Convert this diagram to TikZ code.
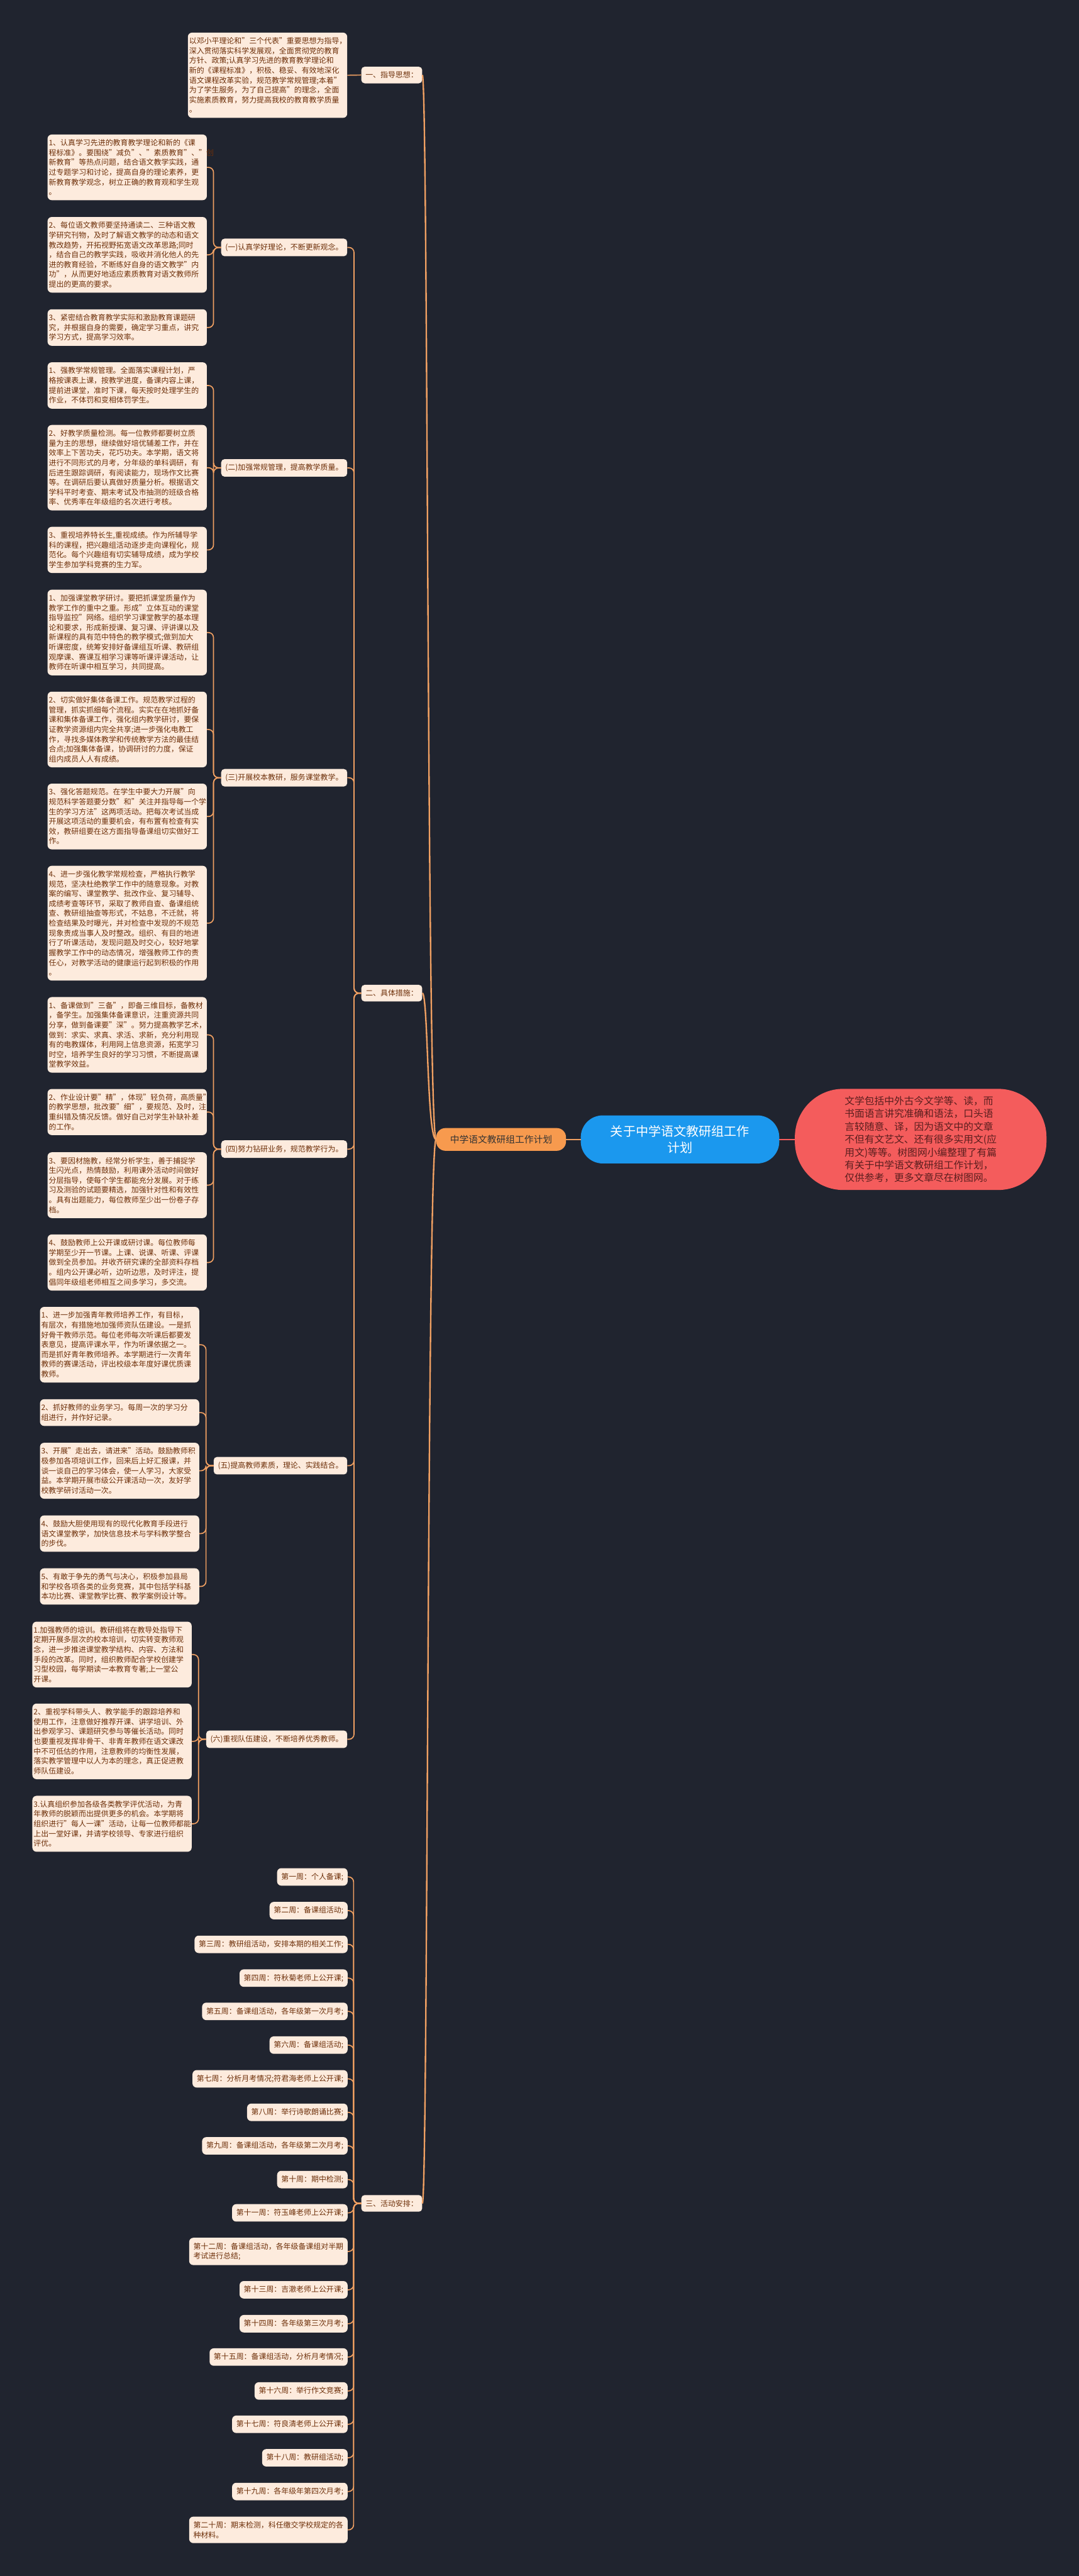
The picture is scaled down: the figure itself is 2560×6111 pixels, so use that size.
\documentclass[tikz,border=0pt]{standalone}
\usepackage{fontspec}
\setmainfont{Noto Sans CJK SC}
\usepackage{tikz}
\usepackage{xcolor}

\definecolor{bgnavy}{HTML}{20242F}
\definecolor{leaffill}{HTML}{FDEBDD}
\definecolor{leaftext}{HTML}{6E300A}
\definecolor{linkorange}{HTML}{F0A062}
\definecolor{rootorange}{HTML}{F79A4E}
\definecolor{titleblue}{HTML}{1B98EE}
\definecolor{notered}{HTML}{F45C5C}
\definecolor{notetext}{HTML}{5A1E1E}

\begin{document}
\begin{tikzpicture}[x=1pt, y=-1pt,
	leaf/.style={fill=leaffill, text=leaftext, rounded corners=10pt, anchor=east, text width=372pt, align=left, inner xsep=3pt, inner ysep=11.5pt, font=\fontsize{17.8pt}{23.3pt}\selectfont},
	week/.style={fill=leaffill, text=leaftext, rounded corners=10pt, anchor=east, align=left, inner xsep=10pt, inner ysep=11.5pt, font=\fontsize{17.8pt}{23.3pt}\selectfont},
	topic/.style={fill=leaffill, text=leaftext, rounded corners=8pt, anchor=east, inner xsep=10pt, inner ysep=11.5pt, font=\fontsize{17.8pt}{23.3pt}\selectfont},
	link/.style={draw=linkorange, line width=2.5pt, rounded corners=12pt},
	branch/.style={draw=linkorange, line width=3.5pt}]
	\useasboundingbox (0,0) rectangle (2560,6111);
	\fill[bgnavy] (0,0) rectangle (2560,6111);

	% centre
	\node[fill=titleblue, text=white, rounded corners=52pt, minimum width=471pt, minimum height=114pt, align=center, font=\fontsize{30pt}{40pt}\selectfont] (title) at (1613.5,2703) {关于中学语文教研组工作\\计划};
	\node[fill=rootorange, text=black!80, rounded corners=22pt, minimum width=308pt, minimum height=54pt, font=\fontsize{22pt}{28pt}\selectfont] (root) at (1189,2703) {中学语文教研组工作计划};
	\node[fill=notered, text=notetext, rounded corners=115pt, minimum width=597pt, minimum height=240pt, align=left, font=\fontsize{23.5pt}{30.5pt}\selectfont] (note) at (2184.5,2703) {文学包括中外古今文学等、读，而\\书面语言讲究准确和语法，口头语\\言较随意、译，因为语文中的文章\\不但有文艺文、还有很多实用文(应\\用文)等等。树图网小编整理了有篇\\有关于中学语文教研组工作计划，\\仅供参考，更多文章尽在树图网。};
	\draw[branch] (title.west) -- (root.east);
	\draw[draw=notered, line width=3.5pt] (title.east) -- (note.west);

	% first level
	\node[topic] (guide) at (1002,178) {一、指导思想：};
	\node[topic] (measures) at (1002,2356) {二、具体措施：};
	\node[topic] (plan) at (1002,5227) {三、活动安排：};
	\foreach \b in {guide,measures,plan}
		\draw[branch] (root.west) .. controls +(-22,0) and +(14,0) .. (\b.east);

	\node[leaf] (g1) at (824,178.5) {以邓小平理论和"三个代表"重要思想为指导，\\深入贯彻落实科学发展观，全面贯彻党的教育\\方针、政策;认真学习先进的教育教学理论和\\新的《课程标准》，积极、稳妥、有效地深化\\语文课程改革实验，规范教学常规管理;本着"\\为了学生服务，为了自己提高"的理念，全面\\实施素质教育，努力提高我校的教育教学质量\\。};
	\draw[link] (guide.west) -- (g1.east);

	% measures
	\node[topic] (s1) at (824,587) {(一)认真学好理论，不断更新观念。};
	\node[topic] (s2) at (824,1110) {(二)加强常规管理，提高教学质量。};
	\node[topic] (s3) at (824,1845) {(三)开展校本教研，服务课堂教学。};
	\node[topic] (s4) at (824,2726) {(四)努力钻研业务，规范教学行为。};
	\node[topic] (s5) at (824,3477) {(五)提高教师素质，理论、实践结合。};
	\node[topic] (s6) at (824,4126) {(六)重视队伍建设，不断培养优秀教师。};
	\foreach \s in {s1,s2,s3,s4,s5,s6}
		\draw[link] (measures.west) -- ++(-17,0) |- (\s.east);

	\node[leaf] (s1a) at (491,397) {1、认真学习先进的教育教学理论和新的《课\\程标准》。要围绕"减负"、"素质教育"、"创\\新教育"等热点问题，结合语文教学实践，通\\过专题学习和讨论，提高自身的理论素养，更\\新教育教学观念，树立正确的教育观和学生观\\。};
	\node[leaf] (s1b) at (491,604.5) {2、每位语文教师要坚持通读二、三种语文教\\学研究刊物，及时了解语文教学的动态和语文\\教改趋势，开拓视野拓宽语文改革思路;同时\\，结合自己的教学实践，吸收并消化他人的先\\进的教育经验，不断练好自身的语文教学"内\\功"，从而更好地适应素质教育对语文教师所\\提出的更高的要求。};
	\node[leaf] (s1c) at (491,777) {3、紧密结合教育教学实际和激励教育课题研\\究，并根据自身的需要，确定学习重点，讲究\\学习方式，提高学习效率。};

	\node[leaf] (s2a) at (491,914.5) {1、强教学常规管理。全面落实课程计划，严\\格按课表上课，按教学进度，备课内容上课，\\提前进课堂，准时下课，每天按时处理学生的\\作业，不体罚和变相体罚学生。};
	\node[leaf] (s2b) at (491,1109.5) {2、好教学质量检测。每一位教师都要树立质\\量为主的思想，继续做好培优辅差工作，并在\\效率上下苦功夫，花巧功夫。本学期，语文将\\进行不同形式的月考，分年级的单科调研，有\\后进生跟踪调研，有阅读能力，现场作文比赛\\等。在调研后要认真做好质量分析。根据语文\\学科平时考查、期末考试及市抽测的班级合格\\率、优秀率在年级组的名次进行考核。};
	\node[leaf] (s2c) at (491,1304.5) {3、重视培养特长生,重视成绩。作为所辅导学\\科的课程，把兴趣组活动逐步走向课程化，规\\范化。每个兴趣组有切实辅导成绩，成为学校\\学生参加学科竞赛的生力军。};

	\node[leaf] (s3a) at (491,1500.5) {1、加强课堂教学研讨。要把抓课堂质量作为\\教学工作的重中之重。形成"立体互动的课堂\\指导监控"网络。组织学习课堂教学的基本理\\论和要求，形成新授课、复习课、评讲课以及\\新课程的具有范中特色的教学模式;做到加大\\听课密度，统筹安排好备课组互听课、教研组\\观摩课、赛课互相学习课等听课评课活动，让\\教师在听课中相互学习，共同提高。};
	\node[leaf] (s3b) at (491,1730.5) {2、切实做好集体备课工作。规范教学过程的\\管理，抓实抓细每个流程。实实在在地抓好备\\课和集体备课工作，强化组内教学研讨，要保\\证教学资源组内完全共享;进一步强化电教工\\作，寻找多媒体教学和传统教学方法的最佳结\\合点;加强集体备课，协调研讨的力度，保证\\组内成员人人有成绩。};
	\node[leaf] (s3c) at (491,1937) {3、强化答题规范。在学生中要大力开展"向\\规范科学答题要分数"和"关注并指导每一个学\\生的学习方法"这两项活动。把每次考试当成\\开展这项活动的重要机会，有布置有检查有实\\效，教研组要在这方面指导备课组切实做好工\\作。};
	\node[leaf] (s3d) at (491,2190) {4、进一步强化教学常规检查，严格执行教学\\规范，坚决杜绝教学工作中的随意现象。对教\\案的编写、课堂教学、批改作业、复习辅导、\\成绩考查等环节，采取了教师自查、备课组统\\查、教研组抽查等形式，不姑息，不迁就，将\\检查结果及时曝光，并对检查中发现的不规范\\现象责成当事人及时整改。组织、有目的地进\\行了听课活动，发现问题及时交心，较好地掌\\握教学工作中的动态情况，增强教师工作的责\\任心，对教学活动的健康运行起到积极的作用\\。};

	\node[leaf] (s4a) at (491,2455) {1、备课做到"三备"，即备三维目标，备教材\\，备学生。加强集体备课意识，注重资源共同\\分享，做到备课要"深"。努力提高教学艺术，\\做到：求实、求真、求活、求新，充分利用现\\有的电教媒体，利用网上信息资源，拓宽学习\\时空，培养学生良好的学习习惯，不断提高课\\堂教学效益。};
	\node[leaf] (s4b) at (491,2638) {2、作业设计要"精"，体现"轻负荷，高质量"\\的教学思想，批改要"细"，要规范、及时，注\\重纠错及情况反馈。做好自己对学生补缺补差\\的工作。};
	\node[leaf] (s4c) at (491,2811.5) {3、要因材施教，经常分析学生，善于捕捉学\\生闪光点，热情鼓励，利用课外活动时间做好\\分层指导，使每个学生都能充分发展。对于练\\习及测验的试题要精选，加强针对性和有效性\\。具有出题能力，每位教师至少出一份卷子存\\档。};
	\node[leaf] (s4d) at (491,2995) {4、鼓励教师上公开课或研讨课。每位教师每\\学期至少开一节课。上课、说课、听课、评课\\做到全员参加。并收齐研究课的全部资料存档\\。组内公开课必听，边听边思，及时评注，提\\倡同年级组老师相互之间多学习，多交流。};

	\node[leaf] (s5a) at (473,3190) {1、进一步加强青年教师培养工作，有目标，\\有层次，有措施地加强师资队伍建设。一是抓\\好骨干教师示范。每位老师每次听课后都要发\\表意见，提高评课水平，作为听课依据之一。\\而是抓好青年教师培养。本学期进行一次青年\\教师的赛课活动，评出校级本年度好课优质课\\教师。};
	\node[leaf] (s5b) at (473,3351) {2、抓好教师的业务学习。每周一次的学习分\\组进行，并作好记录。};
	\node[leaf] (s5c) at (473,3489) {3、开展"走出去，请进来"活动。鼓励教师积\\极参加各项培训工作，回来后上好汇报课，并\\谈一谈自己的学习体会，使一人学习，大家受\\益。本学期开展市级公开课活动一次，友好学\\校教学研讨活动一次。};
	\node[leaf] (s5d) at (473,3638) {4、鼓励大胆使用现有的现代化教育手段进行\\语文课堂教学，加快信息技术与学科教学整合\\的步伐。};
	\node[leaf] (s5e) at (473,3763.5) {5、有敢于争先的勇气与决心，积极参加县局\\和学校各项各类的业务竞赛，其中包括学科基\\本功比赛、课堂教学比赛、教学案例设计等。};

	\node[leaf] (s6a) at (455,3925) {1.加强教师的培训。教研组将在教导处指导下\\定期开展多层次的校本培训，切实转变教师观\\念，进一步推进课堂教学结构、内容、方法和\\手段的改革。同时，组织教师配合学校创建学\\习型校园，每学期读一本教育专著;上一堂公\\开课。};
	\node[leaf] (s6b) at (455,4131) {2、重视学科带头人、教学能手的跟踪培养和\\使用工作，注意做好推荐开课、讲学培训、外\\出参观学习、课题研究参与等催长活动。同时\\也要重视发挥非骨干、非青年教师在语文课改\\中不可低估的作用，注意教师的均衡性发展，\\落实教学管理中以人为本的理念，真正促进教\\师队伍建设。};
	\node[leaf] (s6c) at (455,4326.5) {3.认真组织参加各级各类教学评优活动，为青\\年教师的脱颖而出提供更多的机会。本学期将\\组织进行"每人一课"活动，让每一位教师都能\\上出一堂好课，并请学校领导、专家进行组织\\评优。};

	\foreach \p/\kids in {s1/{a,b,c}, s2/{a,b,c}, s3/{a,b,c,d}, s4/{a,b,c,d}, s5/{a,b,c,d,e}, s6/{a,b,c}}
	{
		\foreach \k in \kids
			\draw[link] (\p.west) -- ++(-18,0) |- (\p\k.east);
	}

	% weeks
	\foreach \n/\y/\txt in {1/4452.5/{第一周：个人备课;}, 2/4532.5/{第二周：备课组活动;}, 3/4612.5/{第三周：教研组活动，安排本期的相关工作;}, 4/4692.5/{第四周：符秋菊老师上公开课;}, 5/4771.5/{第五周：备课组活动，各年级第一次月考;}, 6/4851.5/{第六周：备课组活动;}, 7/4931.5/{第七周：分析月考情况;符君海老师上公开课;}, 8/5011/{第八周：举行诗歌朗诵比赛;}, 9/5090.5/{第九周：备课组活动，各年级第二次月考;}, 10/5170.5/{第十周：期中检测;}, 11/5249.5/{第十一周：符玉峰老师上公开课;}, 12/5341/{第十二周：备课组活动，各年级备课组对半期\\考试进行总结;}, 13/5432/{第十三周：吉澈老师上公开课;}, 14/5512.5/{第十四周：各年级第三次月考;}, 15/5591.5/{第十五周：备课组活动，分析月考情况;}, 16/5672/{第十六周：举行作文竞赛;}, 17/5751/{第十七周：符良清老师上公开课;}, 18/5830.5/{第十八周：教研组活动;}, 19/5910.5/{第十九周：各年级年第四次月考;}, 20/6001.5/{第二十周：期末检测，科任缴交学校规定的各\\种材料。}}
	{
		\node[week] (w\n) at (825,\y) {\txt};
		\draw[link] (plan.west) -- ++(-18,0) |- (w\n.east);
	}
\end{tikzpicture}
\end{document}
